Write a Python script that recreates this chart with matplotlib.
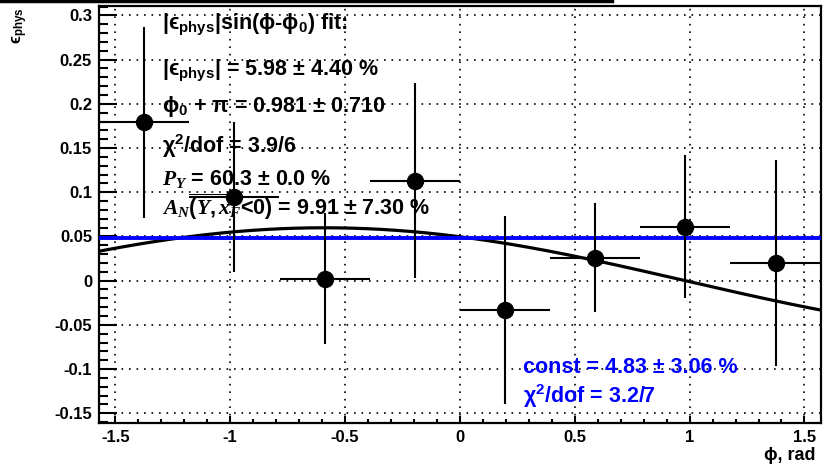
import numpy as np
import matplotlib.pyplot as plt
from matplotlib.lines import Line2D
from matplotlib.ticker import MultipleLocator

plt.rcParams['font.family'] = ['Liberation Sans', 'DejaVu Sans']
plt.rcParams['font.weight'] = 'bold'
plt.rcParams['mathtext.fontset'] = 'custom'
plt.rcParams['mathtext.rm'] = 'Liberation Sans:bold'
plt.rcParams['mathtext.bf'] = 'Liberation Sans:bold'
plt.rcParams['mathtext.it'] = 'Liberation Serif:italic'
plt.rcParams['mathtext.default'] = 'rm'

# Data points (bin centres, half bin widths, asymmetry and errors)
phi = [-1.374, -0.982, -0.589, -0.196, 0.196, 0.589, 0.982, 1.374]
phi_err = [0.196, 0.196, 0.196, 0.196, 0.196, 0.196, 0.196, 0.196]
eps = [0.179, 0.095, 0.002, 0.113, -0.033, 0.026, 0.061, 0.020]
eps_err = [0.108, 0.085, 0.074, 0.110, 0.106, 0.062, 0.081, 0.116]

# Fit results
amp = 0.0598          # |eps_phys|
phi0_plus_pi = 0.981  # phi_0 + pi
const = 0.0483

xticks = [-1.5, -1, -0.5, 0, 0.5, 1, 1.5]
xticklabels = ['-1.5', '-1', '-0.5', '0', '0.5', '1', '1.5']
yticks = [-0.15, -0.1, -0.05, 0, 0.05, 0.1, 0.15, 0.2, 0.25, 0.3]
yticklabels = ['-0.15', '-0.1', '-0.05', '0', '0.05', '0.1', '0.15', '0.2', '0.25', '0.3']

fig = plt.figure(figsize=(8.25, 4.75), dpi=100)
ax = fig.add_axes([0.12, 0.1095, 0.8748, 0.8785])

ax.set_xlim(-np.pi / 2, np.pi / 2)
ax.set_ylim(-0.161, 0.311)

# grid
ax.set_xticks(xticks)
ax.set_xticklabels(xticklabels)
ax.set_yticks(yticks)
ax.set_yticklabels(yticklabels)
ax.xaxis.set_minor_locator(MultipleLocator(0.1))
ax.yaxis.set_minor_locator(MultipleLocator(0.01))
ax.grid(True, which='major', color='black', linestyle=(0, (1, 3.5)), linewidth=1.2)
ax.set_axisbelow(True)

ax.tick_params(which='both', direction='in', top=False, right=False, width=1.5,
               labelsize=12)
ax.tick_params(axis='y', which='major', length=13, pad=5)
ax.tick_params(axis='y', which='minor', length=6.5)
ax.tick_params(axis='x', which='major', length=5, pad=5)
ax.tick_params(axis='x', which='minor', length=3)
for sp in ax.spines.values():
    sp.set_linewidth(1.6)

# fits
xf = np.linspace(-np.pi / 2, np.pi / 2, 300)
ax.plot(xf, amp * np.sin(xf - (phi0_plus_pi - np.pi)), color='black', lw=2.3, zorder=3)
ax.axhline(const, color='#0000ff', lw=2.8, zorder=3)

ax.errorbar(phi, eps, xerr=phi_err, yerr=eps_err, fmt='o', color='black',
            ms=11.5, elinewidth=1.5, capsize=0, zorder=4)

EPS = '\u03f5'

# labels
fig.text(0.025, 0.985, EPS + '$_{phys}$', rotation=90, ha='center', va='top', fontsize=12)
fig.text(0.988, 0.04, 'ϕ, rad', ha='right', va='center', fontsize=13)

# fit text
fs = 15.5
x0 = -1.296
ax.text(x0, 0.284, '|' + EPS + '$_{phys}$|sin(ϕ-ϕ$_0$) fit:', fontsize=fs, zorder=5)
ax.text(x0, 0.232, '|' + EPS + '$_{phys}$| = %.2f ± %.2f %%' % (amp * 100, 4.40), fontsize=fs, zorder=5)
ax.text(x0, 0.1907, 'ϕ$_0$ + π = %.3f ± %.3f' % (phi0_plus_pi, 0.710), fontsize=fs, zorder=5)
ax.text(x0, 0.144, 'χ$^2$/dof = 3.9/6', fontsize=fs, zorder=5)
ax.text(x0, 0.108, r'$\mathit{P}_{\mathit{Y}}$ = 60.3 ± 0.0 %', fontsize=fs, zorder=5)
ax.text(x0, 0.074, r'$\mathit{A}_{\mathit{N}}\overline{\mathit{(Y, x}}_{\mathit{F}}$<0) = 9.91 ± 7.30 %',
        fontsize=fs, zorder=5)

ax.text(0.274, -0.105, 'const = %.2f ± 3.06 %%' % (const * 100), color='#0000ff', fontsize=fs, zorder=5)
ax.text(0.274, -0.138, 'χ$^2$/dof = 3.2/7', color='#0000ff', fontsize=fs, zorder=5)

# bar at the top left (edge of a box above the frame)
fig.add_artist(Line2D([0, 612 / 825], [1 - 1.2 / 475] * 2, color='black', lw=2.5))

fig.savefig('out.png', dpi=100)
